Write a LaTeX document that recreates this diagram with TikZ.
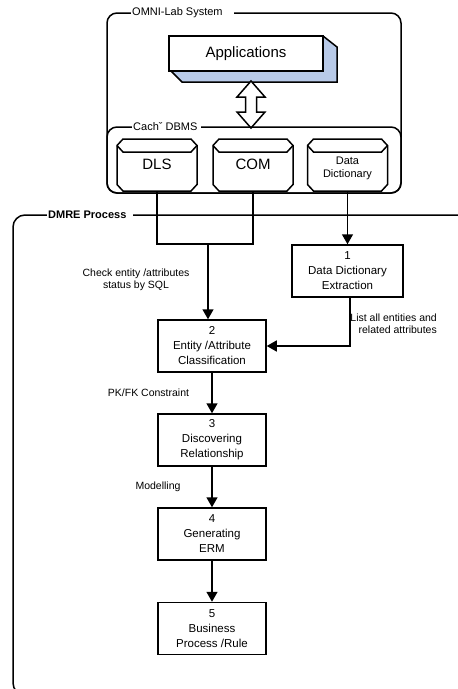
\documentclass[tikz,border=0pt]{standalone}
\usepackage{fontspec}
\setmainfont{Liberation Sans}
\usetikzlibrary{arrows.meta,calc}
\definecolor{appblue}{RGB}{184,202,232}
\newcommand\cylout[2]{%
  \draw[ln,fill=white] (#1-40,#2) -- (#1-34,#2-6.5) -- (#1+34,#2-6.5) -- (#1+40,#2)
     -- (#1+40,#2+39) -- (#1+34,#2+45.5) -- (#1-34,#2+45.5) -- (#1-40,#2+39) -- cycle;
  \draw[ln] (#1-40,#2) -- (#1-34,#2+6.5) -- (#1+34,#2+6.5) -- (#1+40,#2);}
\begin{document}
\begin{tikzpicture}[x=1pt,y=-1pt,
  ln/.style={line width=1.5pt},
  arr/.style={ln,-{Triangle[width=11pt,length=10pt]}},
  procbox/.style={draw,line width=1.5pt,minimum width=108pt,minimum height=52pt,align=center,
     font=\fontsize{11.5}{15}\selectfont,inner sep=0pt},
  cylnode/.style={minimum width=80pt,minimum height=54pt,inner sep=0pt,align=center},
  lbl/.style={font=\fontsize{10.5}{12.5}\selectfont,align=center,inner sep=0pt},
  ttl/.style={fill=white,inner sep=1pt,anchor=west,font=\fontsize{11}{13}\selectfont},
]
\useasboundingbox (0,0) rectangle (458,689);
\clip (0,0) rectangle (458,689);

% OMNI-Lab System
\draw[ln,rounded corners=10pt] (107,13) rectangle (401,193);
\node[ttl] (omni) at (131,13) {OMNI-Lab System\hspace*{10pt}};

% Applications 3D box
\draw[ln,fill=appblue] (323,36) -- (337,47) -- (337,82) -- (182,82) -- (171,71) -- cycle;
\node[draw,ln,fill=white,minimum width=154pt,minimum height=35pt,inner sep=0pt,
  font=\fontsize{15}{18}\selectfont] (app) at (246,53.5) {Applications};

% double arrow
\draw[ln,fill=white] (251,81) -- (265,97) -- (256.5,97) -- (256.5,112) -- (265,112)
  -- (251,128) -- (237,112) -- (245.5,112) -- (245.5,97) -- (237,97) -- cycle;

% Cache DBMS
\draw[ln,rounded corners=10pt] (107,127) rectangle (401,193);
\node[ttl] (cache) at (132,127) {Cachˇ  DBMS\hspace*{3pt}};

\cylout{157}{145.5}
\cylout{253}{145.5}
\cylout{347.5}{145.5}
\node[cylnode,font=\fontsize{15}{18}\selectfont] (dls) at (157,164) {\raisebox{-3pt}{DLS}};
\node[cylnode,font=\fontsize{15}{18}\selectfont] (com) at (253,164) {\raisebox{-3pt}{COM}};
\node[cylnode] (dd) at (347.5,164) {};
\node[font=\fontsize{11}{13}\selectfont,align=center,inner sep=0pt] (ddt)
  at ([yshift=-4.5pt]dd.center) {Data\\Dictionary};

% DMRE Process
\draw[ln,rounded corners=12pt] (470,215) -- (13,215) -- (13,695) -- (470,695);
\node[ttl,font=\fontsize{11}{13}\selectfont\bfseries] (dmre) at (47,215) {DMRE Process\hspace*{6pt}};

% process boxes
\node[procbox,minimum width=111pt] (e1) at (347.5,271) {1\\Data Dictionary\\Extraction};
\node[procbox] (e2) at (212,346) {2\\Entity /Attribute\\Classification};
\node[procbox] (e3) at (212,440) {3\\Discovering\\Relationship};
\node[procbox] (e4) at (212,534) {4\\Generating\\ERM};
\node[procbox] (e5) at (212,628.5) {5\\Business\\Process /Rule};

% connectors
\coordinate (jl) at (157,244);
\coordinate (jr) at (253,244);
\coordinate (jm) at (208,244);
\draw[ln] (dls.south) -- (jl) -- (jr) -- (com.south);
\draw[arr] (jm) -- (jm |- e2.north);
\draw[arr] (dd.south) -- (dd.south |- e1.north);
\draw[arr] ([xshift=2.5pt]e1.south) |- (e2.east);
\draw[arr] (e2.south) -- (e3.north);
\draw[arr] (e3.south) -- (e4.north);
\draw[arr] (e4.south) -- (e5.north);

% labels
\node[lbl] (l1) at (136,280) {Check entity /attributes\\status by SQL};
\node[lbl,align=right,anchor=east] (l2) at (437,323.5) {List all entities and\\related attributes};
\node[lbl] (l3) at (148.5,393) {PK/FK Constraint};
\node[lbl] (l4) at (158,487) {Modelling};
\end{tikzpicture}
\end{document}
